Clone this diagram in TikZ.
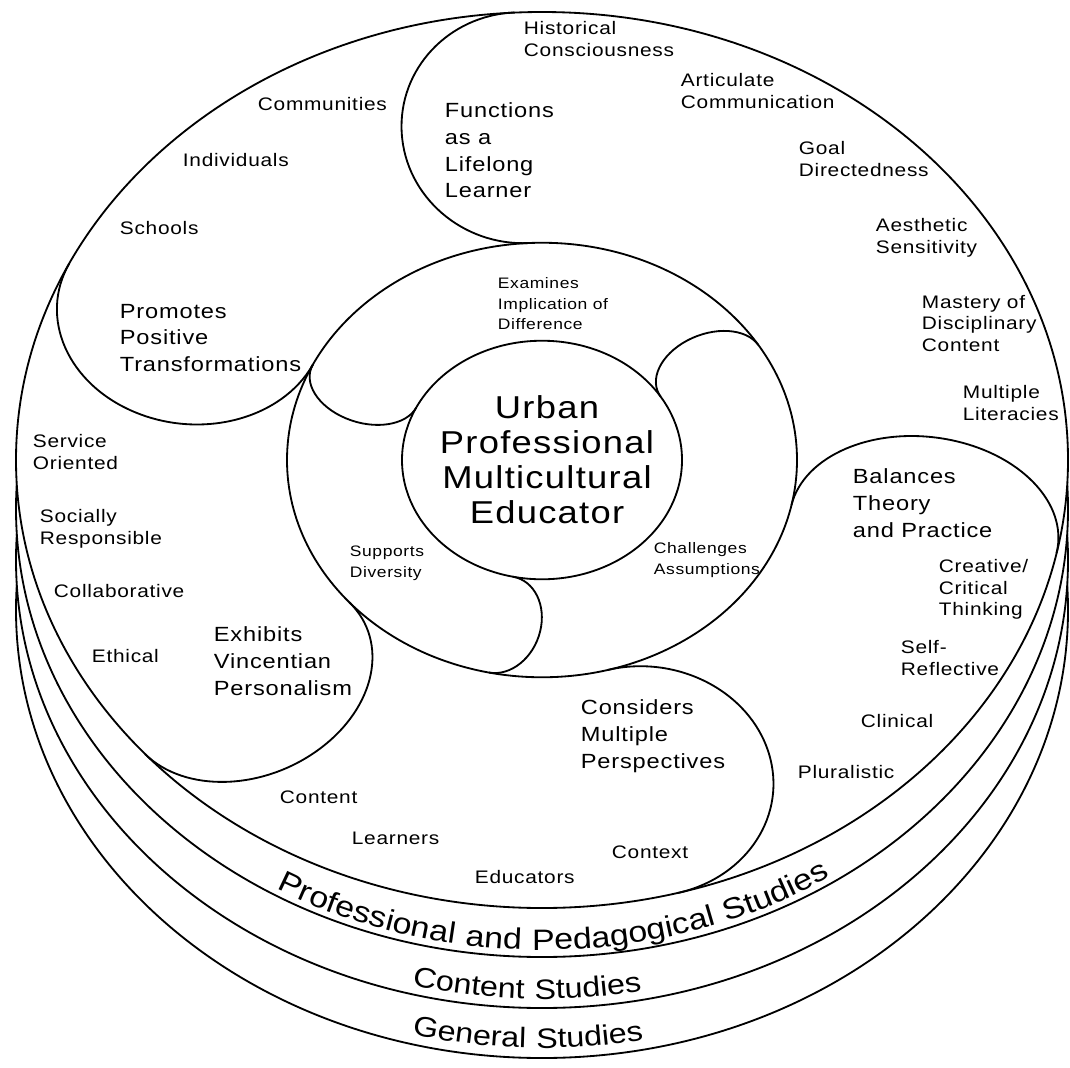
\documentclass[tikz,border=0pt]{standalone}
\usepackage{fontspec}
\setmainfont{Liberation Sans}[FakeStretch=1.15,LetterSpace=4]
\usetikzlibrary{decorations.text}
\newcommand\fItem{\fontsize{12.9}{15.6}\selectfont}
\newcommand\fTitle{\fontsize{14.6}{19}\selectfont}
\newcommand\fSmall{\fontsize{10.8}{14.6}\selectfont}
\newcommand\fCore{\fontsize{22.5}{24.9}\selectfont}
\newcommand\fBand{\fontsize{20}{22}\selectfont}
\newcommand\fBandL{\fontsize{21}{23}\selectfont}
\begin{document}
\begin{tikzpicture}[x=0.025cm,y=0.025cm,line width=1.3pt,
  lab/.style={anchor=north west,inner sep=0pt,align=left,font=\fItem},
  ttl/.style={anchor=north west,inner sep=0pt,align=left,font=\fTitle},
  sml/.style={anchor=north west,inner sep=0pt,align=left,font=\fSmall},
  disc/.style={fill=white,draw=black}]
\useasboundingbox (0,0) rectangle (1070,-1067);

% stacked discs, back to front
\path[disc] (542,-610) ellipse [x radius=526, y radius=448];
\path[disc] (542,-560) ellipse [x radius=526, y radius=448];
\path[disc] (542,-509) ellipse [x radius=526, y radius=448];
\path[disc] (542,-460) ellipse [x radius=526, y radius=448];

% rings and lobes
\begin{scope}[shift={(542,-460)}, yscale=0.852]
  \draw (0,0) circle [radius=255];
  \draw (0,0) circle [radius=140];
  \foreach \a/\b in {93/120,154/128,221/110,285/130,348/108}
    \draw[rotate=\a] (526,0) arc[start angle=0,end angle=180,x radius=135.5,y radius=\b];
  \foreach \a/\b in {32/42,154/42,258/40}
    \draw[rotate=\a] (255,0) arc[start angle=0,end angle=180,x radius=57.5,y radius=\b];
\end{scope}

% centre
\node[anchor=north,inner sep=0pt,align=center,font=\fCore] (core) at (547,-395)
  {Urban\\Professional\\Multicultural\\Educator};

% middle ring
\node[sml] (examines) at (497,-277) {Examines\\Implication of\\Difference};
\node[sml] (supports) at (349,-545) {Supports\\Diversity};
\node[sml] (challenges) at (653,-542) {Challenges\\Assumptions};

% outer ring titles
\node[ttl] (lifelong) at (444,-102) {Functions\\as a\\Lifelong\\Learner};
\node[ttl] (promotes) at (119,-303) {Promotes\\Positive\\Transformations};
\node[ttl] (exhibits) at (213,-626) {Exhibits\\Vincentian\\Personalism};
\node[ttl] (considers) at (580,-699) {Considers\\Multiple\\Perspectives};
\node[ttl] (balances) at (852,-468) {Balances\\Theory\\and Practice};

% outer ring items
\node[lab] (communities) at (257,-96) {Communities};
\node[lab] (individuals) at (182,-152) {Individuals};
\node[lab] (schools) at (119,-220) {Schools};
\node[lab] (historical) at (523,-20) {Historical\\Consciousness};
\node[lab] (articulate) at (680,-72) {Articulate\\Communication};
\node[lab] (goal) at (798,-140) {Goal\\Directedness};
\node[lab] (aesthetic) at (875,-217) {Aesthetic\\Sensitivity};
\node[lab] (mastery) at (921,-294) {Mastery of\\Disciplinary\\Content};
\node[lab] (literacies) at (962,-384) {Multiple\\Literacies};
\node[lab] (creative) at (938,-558) {Creative/\\Critical\\Thinking};
\node[lab] (selfrefl) at (900,-639) {Self-\\Reflective};
\node[lab] (clinical) at (860,-713) {Clinical};
\node[lab] (pluralistic) at (797,-764) {Pluralistic};
\node[lab] (context) at (611,-845) {Context};
\node[lab] (educators) at (474,-869) {Educators};
\node[lab] (learners) at (351,-831) {Learners};
\node[lab] (content) at (279,-790) {Content};
\node[lab] (ethical) at (91,-648) {Ethical};
\node[lab] (collab) at (53,-583) {Collaborative};
\node[lab] (socially) at (39,-508) {Socially\\Responsible};
\node[lab] (service) at (32,-433) {Service\\Oriented};

% band labels
\path[decorate,decoration={text along path,text align=center,
  text={|\fBandL|Professional and Pedagogical Studies}}]
  ([shift={(226.5:526 and 448)}]542,-502) arc[start angle=226.5,end angle=316.5,x radius=526,y radius=448];
\path[decorate,decoration={text along path,text align=center,
  text={|\fBand|Content Studies}}]
  ([shift={(223.2:526 and 448)}]542,-551) arc[start angle=223.2,end angle=313.2,x radius=526,y radius=448];
\path[decorate,decoration={text along path,text align=center,
  text={|\fBand|General Studies}}]
  ([shift={(223.3:526 and 448)}]542,-600) arc[start angle=223.3,end angle=313.3,x radius=526,y radius=448];
\end{tikzpicture}
\end{document}
